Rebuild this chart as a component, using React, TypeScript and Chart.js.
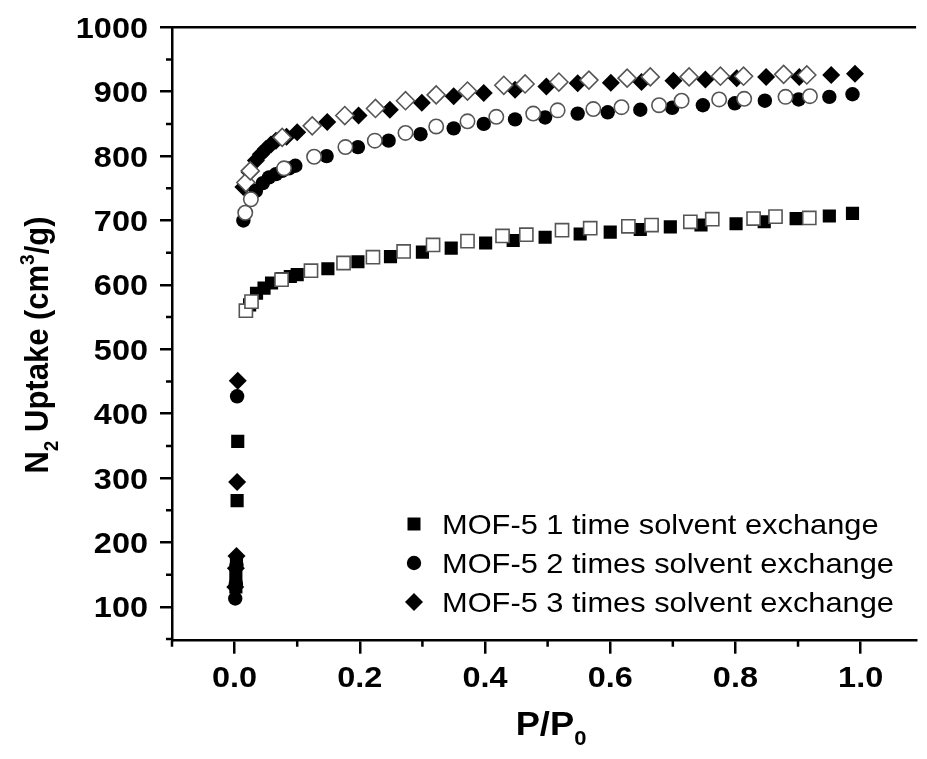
import React, { useEffect, useRef } from 'react';
import { Chart, registerables } from 'chart.js';

Chart.register(...registerables);

const X_TICKS = [0, 0.2, 0.4, 0.6, 0.8, 1.0];
const X_MINOR = [-0.1, 0.1, 0.3, 0.5, 0.7, 0.9];
const Y_TICKS = [100, 200, 300, 400, 500, 600, 700, 800, 900, 1000];
const Y_MINOR = [50, 150, 250, 350, 450, 550, 650, 750, 850, 950];

const LEGEND_LABELS = [
  'MOF-5 1 time solvent exchange',
  'MOF-5 2 times solvent exchange',
  'MOF-5 3 times solvent exchange',
];

// MOF-5 1 time – adsorption (filled squares)
const S1_ADS_X = [0.002, 0.002, 0.003, 0.004, 0.005, 0.024, 0.035, 0.047, 0.059, 0.076, 0.089, 0.1, 0.149, 0.197, 0.249, 0.3, 0.346, 0.401, 0.445, 0.496, 0.552, 0.6, 0.648, 0.696, 0.745, 0.801, 0.846, 0.897, 0.95, 0.987];
const S1_ADS_Y = [131, 150, 170, 265, 357, 569, 587, 595, 603, 610, 613, 616, 625, 636, 644, 651, 657, 665, 669, 674, 679, 682, 686, 690, 693, 695, 698, 703, 707, 711];
// MOF-5 1 time – desorption (open squares)
const S1_DES_X = [0.018, 0.027, 0.075, 0.122, 0.174, 0.221, 0.27, 0.317, 0.372, 0.428, 0.466, 0.523, 0.568, 0.629, 0.666, 0.728, 0.763, 0.829, 0.864, 0.918];
const S1_DES_Y = [560, 574, 608, 622, 634, 643, 652, 662, 668, 676, 678, 685, 688, 691, 693, 698, 702, 703, 706, 704];

// MOF-5 2 times – adsorption (filled circles)
const S2_ADS_X = [0.001, 0.002, 0.003, 0.004, 0.014, 0.034, 0.045, 0.055, 0.066, 0.076, 0.087, 0.097, 0.147, 0.197, 0.246, 0.297, 0.35, 0.398, 0.448, 0.496, 0.548, 0.596, 0.648, 0.699, 0.748, 0.799, 0.847, 0.901, 0.95, 0.987];
const S2_ADS_Y = [113, 135, 165, 427, 700, 746, 758, 767, 772, 777, 781, 785, 800, 814, 824, 834, 843, 850, 857, 860, 866, 868, 872, 875, 879, 882, 886, 888, 892, 896];
// MOF-5 2 times – desorption (open circles)
const S2_DES_X = [0.017, 0.026, 0.079, 0.127, 0.177, 0.224, 0.273, 0.322, 0.372, 0.418, 0.477, 0.516, 0.573, 0.618, 0.678, 0.714, 0.774, 0.814, 0.88, 0.919];
const S2_DES_Y = [712, 733, 781, 799, 814, 824, 836, 846, 854, 861, 866, 871, 873, 876, 879, 886, 888, 889, 892, 893];

// MOF-5 3 times – adsorption (filled diamonds)
const S3_ADS_X = [0.001, 0.002, 0.003, 0.004, 0.005, 0.014, 0.024, 0.034, 0.042, 0.05, 0.058, 0.066, 0.083, 0.1, 0.148, 0.198, 0.248, 0.299, 0.35, 0.398, 0.448, 0.498, 0.548, 0.601, 0.65, 0.701, 0.752, 0.802, 0.849, 0.902, 0.953, 0.991];
const S3_ADS_Y = [131, 160, 179, 294, 451, 752, 775, 793, 803, 811, 818, 824, 830, 837, 853, 863, 872, 883, 893, 898, 903, 908, 913, 914, 915, 917, 919, 921, 923, 923, 926, 928];
// MOF-5 3 times – desorption (open diamonds)
const S3_DES_X = [0.018, 0.025, 0.076, 0.124, 0.176, 0.225, 0.273, 0.322, 0.372, 0.43, 0.464, 0.518, 0.566, 0.627, 0.664, 0.726, 0.776, 0.813, 0.877, 0.914];
const S3_DES_Y = [759, 777, 829, 847, 863, 874, 886, 895, 901, 910, 912, 915, 918, 921, 923, 923, 924, 924, 927, 926];

const pts = (xs: number[], ys: number[]) => xs.map((x, i) => ({ x, y: ys[i] }));

const FONT = '"Liberation Sans", Arial, sans-serif';
const SX = 1.1; // horizontal stretch of the source artwork's lettering

type Part = { t: string; sub?: boolean; sup?: boolean };

function stretchedText(
  ctx: CanvasRenderingContext2D,
  text: string,
  x: number,
  y: number,
  font: string,
  align: CanvasTextAlign
) {
  ctx.save();
  ctx.font = font;
  ctx.textAlign = align;
  ctx.textBaseline = 'alphabetic';
  ctx.translate(x, y);
  ctx.scale(SX, 1);
  ctx.fillText(text, 0, 0);
  ctx.restore();
}

function drawRich(ctx: CanvasRenderingContext2D, parts: Part[], size: number, cx: number, baseY: number) {
  const small = Math.round(size * 0.62);
  const widths = parts.map((p) => {
    ctx.font = `bold ${p.sub || p.sup ? small : size}px ${FONT}`;
    return ctx.measureText(p.t).width;
  });
  const total = widths.reduce((a, b) => a + b, 0);
  let x = cx - total / 2;
  ctx.textAlign = 'left';
  ctx.textBaseline = 'alphabetic';
  parts.forEach((p, i) => {
    ctx.font = `bold ${p.sub || p.sup ? small : size}px ${FONT}`;
    let dy = 0;
    if (p.sub) dy = size * 0.3;
    if (p.sup) dy = -size * 0.42;
    ctx.fillText(p.t, x, baseY + dy);
    x += widths[i];
  });
}

const decorPlugin = {
  id: 'decor',
  afterDraw(chart: any) {
    const { ctx, chartArea } = chart;
    const xs = chart.scales.x;
    const ys = chart.scales.y;
    ctx.save();
    ctx.strokeStyle = '#000';
    ctx.lineWidth = 2.5;
    // top frame
    ctx.beginPath();
    ctx.moveTo(chartArea.left, chartArea.top);
    ctx.lineTo(chartArea.right, chartArea.top);
    ctx.stroke();
    // minor ticks
    ctx.beginPath();
    Y_MINOR.forEach((v) => {
      const py = ys.getPixelForValue(v);
      if (py <= chartArea.bottom + 1) {
        ctx.moveTo(chartArea.left - 6, py);
        ctx.lineTo(chartArea.left, py);
      }
    });
    X_MINOR.forEach((v) => {
      const px = xs.getPixelForValue(v);
      ctx.moveTo(px, chartArea.bottom);
      ctx.lineTo(px, chartArea.bottom + 6);
    });
    ctx.stroke();

    ctx.fillStyle = '#000';
    // tick labels
    const tf = `bold 29.5px ${FONT}`;
    Y_TICKS.forEach((v) => {
      const py = ys.getPixelForValue(v);
      stretchedText(ctx, String(v), chartArea.left - 24, py + 10.5, tf, 'right');
    });
    X_TICKS.forEach((v) => {
      const px = xs.getPixelForValue(v);
      stretchedText(ctx, v.toFixed(1), px, 687, tf, 'center');
    });

    // x title
    ctx.save();
    ctx.translate(551, 735);
    ctx.scale(SX, 1);
    drawRich(ctx, [{ t: 'P/P' }, { t: '0', sub: true }], 33, 0, 0);
    ctx.restore();
    // y title
    ctx.save();
    ctx.translate(48, 345);
    ctx.rotate(-Math.PI / 2);
    ctx.scale(1, SX);
    drawRich(
      ctx,
      [{ t: 'N' }, { t: '2', sub: true }, { t: ' Uptake (cm' }, { t: '3', sup: true }, { t: '/g)' }],
      31,
      0,
      0
    );
    ctx.restore();

    // legend
    const rows = [524, 563, 602];
    const mx = 414;
    rows.forEach((ry, i) => {
      ctx.beginPath();
      if (i === 0) {
        const s = 6.5;
        ctx.rect(mx - s, ry - s, 2 * s, 2 * s);
      } else if (i === 1) {
        ctx.arc(mx, ry, 7.2, 0, Math.PI * 2);
      } else {
        const r = 9;
        ctx.moveTo(mx - r, ry);
        ctx.lineTo(mx, ry - r);
        ctx.lineTo(mx + r, ry);
        ctx.lineTo(mx, ry + r);
        ctx.closePath();
      }
      ctx.fill();
      stretchedText(ctx, LEGEND_LABELS[i], 442, ry + 10, `28px ${FONT}`, 'left');
    });
    ctx.restore();
  },
};

export default function App() {
  const ref = useRef<HTMLCanvasElement | null>(null);

  useEffect(() => {
    if (!ref.current) return;
    const filled = (style: string, r: number) => ({
      pointStyle: style,
      pointRadius: r,
      backgroundColor: '#000',
      borderColor: '#000',
      borderWidth: 0,
      showLine: false,
    });
    const open = (style: string, r: number) => ({
      pointStyle: style,
      pointRadius: r,
      backgroundColor: '#fff',
      borderColor: '#555',
      borderWidth: 1.6,
      showLine: false,
    });
    const chart = new Chart(ref.current, {
      type: 'scatter',
      data: {
        datasets: [
          { label: LEGEND_LABELS[0] + ' des', data: pts(S1_DES_X, S1_DES_Y), ...open('rect', 9.3) },
          { label: LEGEND_LABELS[0], data: pts(S1_ADS_X, S1_ADS_Y), ...filled('rect', 9.3) },
          { label: LEGEND_LABELS[1] + ' des', data: pts(S2_DES_X, S2_DES_Y), ...open('circle', 7.2) },
          { label: LEGEND_LABELS[1], data: pts(S2_ADS_X, S2_ADS_Y), ...filled('circle', 7.2) },
          { label: LEGEND_LABELS[2] + ' des', data: pts(S3_DES_X, S3_DES_Y), ...open('rectRot', 9) },
          { label: LEGEND_LABELS[2], data: pts(S3_ADS_X, S3_ADS_Y), ...filled('rectRot', 9) },
        ] as any,
      },
      options: {
        animation: false,
        responsive: false,
        maintainAspectRatio: false,
        devicePixelRatio: 1,
        layout: { padding: { top: 27.3, right: 0, left: 0, bottom: 0 } },
        plugins: { legend: { display: false }, tooltip: { enabled: false } },
        elements: { point: { hoverRadius: 0 } },
        scales: {
          x: {
            type: 'linear',
            position: 'bottom',
            min: -0.1,
            max: 1.0886,
            border: { display: true, color: '#000', width: 2.5 },
            grid: { display: true, drawOnChartArea: false, drawTicks: true, tickLength: 13, tickWidth: 2.5, tickColor: '#000', color: '#000', lineWidth: 2.5 },
            ticks: { display: false, autoSkip: false, maxRotation: 0 },
            afterBuildTicks: (s: any) => {
              s.ticks = X_TICKS.map((v) => ({ value: v }));
            },
            afterFit: (s: any) => {
              s.height = 118.3;
            },
          },
          y: {
            type: 'linear',
            position: 'left',
            min: 47.5,
            max: 1000,
            border: { display: true, color: '#000', width: 2.5 },
            grid: { display: true, drawOnChartArea: false, drawTicks: true, tickLength: 12, tickWidth: 2.5, tickColor: '#000', color: '#000', lineWidth: 2.5 },
            ticks: { display: false, autoSkip: false },
            afterBuildTicks: (s: any) => {
              s.ticks = Y_TICKS.map((v) => ({ value: v }));
            },
            afterFit: (s: any) => {
              s.width = 172;
            },
          },
        },
      } as any,
      plugins: [decorPlugin],
    });
    return () => chart.destroy();
  }, []);

  return (
    <div style={{ position: 'absolute', left: 0, top: 0, width: 927, height: 759, background: '#fff' }}>
      <canvas ref={ref} width={927} height={759} style={{ display: 'block' }} />
    </div>
  );
}
